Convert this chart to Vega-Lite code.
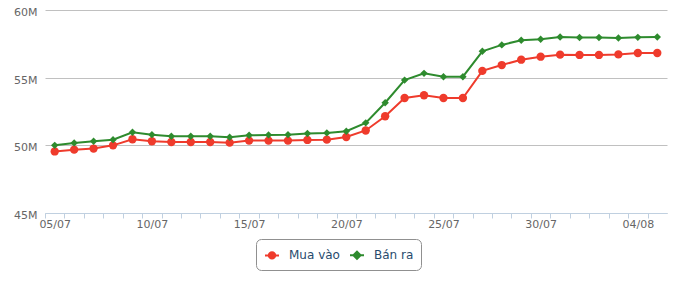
{
  "$schema": "https://vega.github.io/schema/vega-lite/v6.json",
  "width": 622,
  "height": 203,
  "autosize": {"type": "none"},
  "padding": {"left": 45, "top": 10, "right": 13, "bottom": 70},
  "background": "white",
  "config": {
    "view": {"stroke": null},
    "font": "DejaVu Sans"
  },
  "data": {
    "values": [
      {"date": "05/07", "series": "Mua vào", "value": 49550000},
      {"date": "06/07", "series": "Mua vào", "value": 49680000},
      {"date": "07/07", "series": "Mua vào", "value": 49760000},
      {"date": "08/07", "series": "Mua vào", "value": 50000000},
      {"date": "09/07", "series": "Mua vào", "value": 50450000},
      {"date": "10/07", "series": "Mua vào", "value": 50300000},
      {"date": "11/07", "series": "Mua vào", "value": 50250000},
      {"date": "12/07", "series": "Mua vào", "value": 50250000},
      {"date": "13/07", "series": "Mua vào", "value": 50250000},
      {"date": "14/07", "series": "Mua vào", "value": 50200000},
      {"date": "15/07", "series": "Mua vào", "value": 50350000},
      {"date": "16/07", "series": "Mua vào", "value": 50350000},
      {"date": "17/07", "series": "Mua vào", "value": 50350000},
      {"date": "18/07", "series": "Mua vào", "value": 50400000},
      {"date": "19/07", "series": "Mua vào", "value": 50420000},
      {"date": "20/07", "series": "Mua vào", "value": 50620000},
      {"date": "21/07", "series": "Mua vào", "value": 51100000},
      {"date": "22/07", "series": "Mua vào", "value": 52150000},
      {"date": "23/07", "series": "Mua vào", "value": 53500000},
      {"date": "24/07", "series": "Mua vào", "value": 53700000},
      {"date": "25/07", "series": "Mua vào", "value": 53500000},
      {"date": "26/07", "series": "Mua vào", "value": 53500000},
      {"date": "27/07", "series": "Mua vào", "value": 55500000},
      {"date": "28/07", "series": "Mua vào", "value": 55930000},
      {"date": "29/07", "series": "Mua vào", "value": 56330000},
      {"date": "30/07", "series": "Mua vào", "value": 56550000},
      {"date": "31/07", "series": "Mua vào", "value": 56700000},
      {"date": "01/08", "series": "Mua vào", "value": 56680000},
      {"date": "02/08", "series": "Mua vào", "value": 56680000},
      {"date": "03/08", "series": "Mua vào", "value": 56720000},
      {"date": "04/08", "series": "Mua vào", "value": 56820000},
      {"date": "05/08", "series": "Mua vào", "value": 56820000},
      {"date": "05/07", "series": "Bán ra", "value": 50000000},
      {"date": "06/07", "series": "Bán ra", "value": 50180000},
      {"date": "07/07", "series": "Bán ra", "value": 50300000},
      {"date": "08/07", "series": "Bán ra", "value": 50420000},
      {"date": "09/07", "series": "Bán ra", "value": 50970000},
      {"date": "10/07", "series": "Bán ra", "value": 50790000},
      {"date": "11/07", "series": "Bán ra", "value": 50670000},
      {"date": "12/07", "series": "Bán ra", "value": 50670000},
      {"date": "13/07", "series": "Bán ra", "value": 50670000},
      {"date": "14/07", "series": "Bán ra", "value": 50600000},
      {"date": "15/07", "series": "Bán ra", "value": 50740000},
      {"date": "16/07", "series": "Bán ra", "value": 50770000},
      {"date": "17/07", "series": "Bán ra", "value": 50790000},
      {"date": "18/07", "series": "Bán ra", "value": 50870000},
      {"date": "19/07", "series": "Bán ra", "value": 50920000},
      {"date": "20/07", "series": "Bán ra", "value": 51040000},
      {"date": "21/07", "series": "Bán ra", "value": 51660000},
      {"date": "22/07", "series": "Bán ra", "value": 53150000},
      {"date": "23/07", "series": "Bán ra", "value": 54820000},
      {"date": "24/07", "series": "Bán ra", "value": 55320000},
      {"date": "25/07", "series": "Bán ra", "value": 55070000},
      {"date": "26/07", "series": "Bán ra", "value": 55070000},
      {"date": "27/07", "series": "Bán ra", "value": 56950000},
      {"date": "28/07", "series": "Bán ra", "value": 57420000},
      {"date": "29/07", "series": "Bán ra", "value": 57770000},
      {"date": "30/07", "series": "Bán ra", "value": 57840000},
      {"date": "31/07", "series": "Bán ra", "value": 58000000},
      {"date": "01/08", "series": "Bán ra", "value": 57970000},
      {"date": "02/08", "series": "Bán ra", "value": 57970000},
      {"date": "03/08", "series": "Bán ra", "value": 57930000},
      {"date": "04/08", "series": "Bán ra", "value": 57980000},
      {"date": "05/08", "series": "Bán ra", "value": 58000000}
    ]
  },
  "encoding": {
    "x": {
      "field": "date",
      "type": "ordinal",
      "sort": null,
      "scale": {"type": "point", "padding": 0.5},
      "axis": {
        "title": null,
        "labelAngle": 0,
        "labelOverlap": false,
        "labelExpr": "indexof(['05/07','10/07','15/07','20/07','25/07','30/07','04/08'], datum.label) >= 0 ? datum.label : ''",
        "tickOffset": -9.72,
        "labelOffset": 9.72,
        "tickSize": 5,
        "tickColor": "#C0D0E0",
        "domainColor": "#C0D0E0",
        "labelColor": "#666666",
        "labelFont": "DejaVu Sans",
        "labelFontSize": 11,
        "labelPadding": 0,
        "grid": false
      }
    },
    "y": {
      "field": "value",
      "type": "quantitative",
      "scale": {"domain": [45000000, 60000000], "nice": false, "zero": false},
      "axis": {
        "title": null,
        "values": [45000000, 50000000, 55000000, 60000000],
        "labelExpr": "(datum.value / 1000000) + 'M'",
        "domain": false,
        "ticks": false,
        "grid": true,
        "gridColor": "#C0C0C0",
        "labelColor": "#666666",
        "labelFont": "DejaVu Sans",
        "labelFontSize": 11,
        "labelPadding": 8,
        "labelOffset": 2.5
      }
    }
  },
  "layer": [
    {
      "mark": {"type": "line", "strokeWidth": 2},
      "encoding": {
        "color": {
          "field": "series",
          "type": "nominal",
          "scale": {"domain": ["Mua vào", "Bán ra"], "range": ["#ef3b2c", "#2e8b2e"]},
          "legend": {
            "title": null,
            "orient": "none",
            "legendX": 211,
            "legendY": 229,
            "direction": "horizontal",
            "strokeColor": "#909090",
            "cornerRadius": 5,
            "fillColor": "white",
            "padding": 7,
            "labelFont": "DejaVu Sans",
            "labelFontSize": 12,
            "labelColor": "#274b6d",
            "symbolSize": 256,
            "symbolStrokeWidth": 2,
            "columnPadding": 6,
            "labelOffset": 8,
            "encode": {
              "symbols": {
                "update": {
                  "shape": {"signal": "datum.value === 'Mua vào' ? 'M-0.875,0H0.875M0.4,0A0.4,0.4,0,1,1,-0.4,0A0.4,0.4,0,1,1,0.4,0Z' : 'M-0.875,0H0.875M0,-0.45L0.45,0L0,0.45L-0.45,0Z'"},
                  "stroke": {"signal": "datum.value === 'Mua vào' ? '#ef3b2c' : '#2e8b2e'"},
                  "fill": {"signal": "datum.value === 'Mua vào' ? '#ef3b2c' : '#2e8b2e'"},
                  "strokeWidth": {"value": 2},
                  "opacity": {"value": 1},
                  "fillOpacity": {"value": 1}
                }
              }
            }
          }
        }
      }
    },
    {
      "transform": [{"filter": "datum.series === 'Mua vào'"}],
      "mark": {"type": "point", "filled": true, "opacity": 1, "strokeWidth": 0, "shape": "circle", "size": 70, "color": "#ef3b2c"}
    },
    {
      "transform": [{"filter": "datum.series === 'Bán ra'"}],
      "mark": {"type": "point", "filled": true, "opacity": 1, "strokeWidth": 0, "shape": "diamond", "size": 55, "color": "#2e8b2e"}
    }
  ]
}
